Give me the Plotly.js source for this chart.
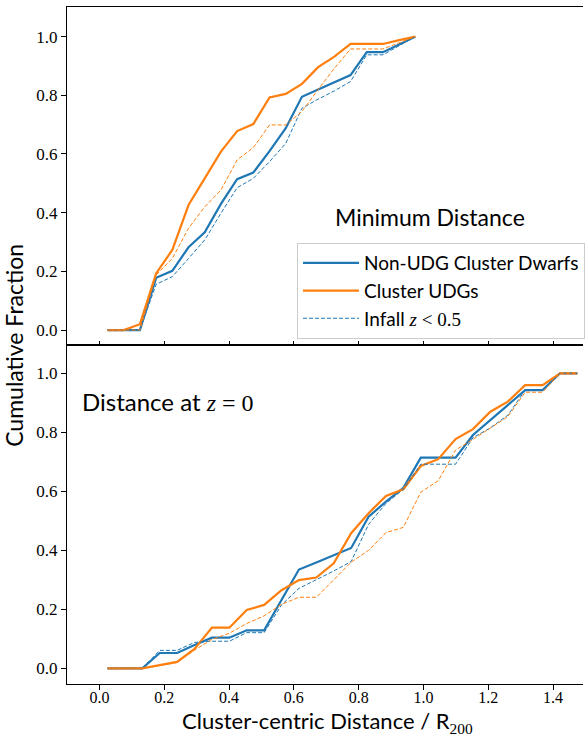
<!DOCTYPE html>
<html><head><meta charset="utf-8">
<script src="https://cdn.plot.ly/plotly-3.0.1.min.js"></script>
<style>html,body{margin:0;padding:0;background:#fff}</style>
</head><body><div id="chart" style="width:585px;height:735px"></div>
<script>
// Top panel: minimum distance
const xMin = [0.025,0.075,0.125,0.175,0.225,0.275,0.325,0.375,0.425,0.475,0.525,0.575,0.625,0.675,0.725,0.775,0.825,0.875,0.925,0.975];
const minDwarf = [0,0,0,0.178,0.202,0.282,0.333,0.430,0.514,0.537,0.610,0.688,0.795,0.820,0.844,0.869,0.947,0.947,0.973,1.0];
const minUDG = [0,0,0.020,0.193,0.273,0.426,0.517,0.608,0.678,0.702,0.793,0.805,0.839,0.896,0.932,0.975,0.975,0.975,0.988,1.0];
const minDwarfInfall = [0,0,0,0.156,0.182,0.244,0.307,0.398,0.485,0.517,0.574,0.636,0.756,0.787,0.815,0.847,0.938,0.938,0.969,1.0];
const minUDGInfall = [0,0,0,0.188,0.244,0.347,0.420,0.477,0.580,0.622,0.699,0.699,0.745,0.820,0.892,0.958,0.958,0.958,0.979,1.0];

// Bottom panel: distance at z = 0
const xZ0 = [0.025,0.0787,0.1324,0.1861,0.2398,0.2935,0.3472,0.4009,0.4546,0.5083,0.5620,0.6157,0.6694,0.7231,0.7769,0.8306,0.8843,0.9380,0.9917,1.0454,1.0991,1.1528,1.2065,1.2602,1.3139,1.3676,1.4213,1.4750];
const z0Dwarf = [0,0,0,0.052,0.052,0.079,0.104,0.104,0.129,0.129,0.232,0.335,0.359,0.383,0.408,0.514,0.565,0.612,0.714,0.714,0.714,0.791,0.842,0.893,0.943,0.943,1.0,1.0];
const z0UDG = [0,0,0,0.011,0.022,0.066,0.138,0.138,0.198,0.215,0.265,0.299,0.308,0.356,0.458,0.526,0.584,0.607,0.686,0.709,0.777,0.811,0.870,0.904,0.960,0.960,1.0,1.0];
const z0DwarfInfall = [0,0,0,0.061,0.061,0.088,0.092,0.092,0.121,0.121,0.215,0.271,0.300,0.330,0.362,0.488,0.559,0.607,0.692,0.692,0.692,0.782,0.815,0.858,0.943,0.943,1.0,1.0];
const z0UDGInfall = [0,0,0,0.010,0.020,0.062,0.098,0.119,0.152,0.178,0.217,0.241,0.241,0.300,0.360,0.400,0.460,0.478,0.597,0.636,0.740,0.776,0.815,0.853,0.936,0.936,1.0,1.0];

const xTicks = [0,0.2,0.4,0.6,0.8,1.0,1.2,1.4];
const xTickText = ['0.0','0.2','0.4','0.6','0.8','1.0','1.2','1.4'];
const yTicks = [0,0.2,0.4,0.6,0.8,1.0];
const yTickText = ['0.0','0.2','0.4','0.6','0.8','1.0'];

const BLUE = '#1f77b4', ORANGE = '#ff7f0e';
const SANS = 'Lato, "DejaVu Sans", sans-serif';
const SERIF = '"Liberation Serif", "DejaVu Serif", serif';
const mathSpan = s => `<span style="font-family:'Liberation Serif'">${s}</span>`;

const solid = c => ({color: c, width: 2.2});
const dashed = c => ({color: c, width: 1, dash: '4px,2px'});

const traces = [
  {x: xMin, y: minDwarf, xaxis: 'x', yaxis: 'y', mode: 'lines', line: solid(BLUE), name: 'Non-UDG Cluster Dwarfs', legendgroup: 'a'},
  {x: xMin, y: minUDG, xaxis: 'x', yaxis: 'y', mode: 'lines', line: solid(ORANGE), name: 'Cluster UDGs', legendgroup: 'b'},
  {x: xMin, y: minDwarfInfall, xaxis: 'x', yaxis: 'y', mode: 'lines', line: dashed(BLUE), name: 'Infall ' + mathSpan('<i>z</i> &lt; 0.5'), legendgroup: 'c'},
  {x: xMin, y: minUDGInfall, xaxis: 'x', yaxis: 'y', mode: 'lines', line: dashed(ORANGE), showlegend: false, legendgroup: 'd'},
  {x: xZ0, y: z0Dwarf, xaxis: 'x2', yaxis: 'y2', mode: 'lines', line: solid(BLUE), showlegend: false},
  {x: xZ0, y: z0UDG, xaxis: 'x2', yaxis: 'y2', mode: 'lines', line: solid(ORANGE), showlegend: false},
  {x: xZ0, y: z0DwarfInfall, xaxis: 'x2', yaxis: 'y2', mode: 'lines', line: dashed(BLUE), showlegend: false},
  {x: xZ0, y: z0UDGInfall, xaxis: 'x2', yaxis: 'y2', mode: 'lines', line: dashed(ORANGE), showlegend: false}
];

const tickFont = {family: SERIF, size: 17, color: '#000'};
const xRange = [-0.1, 1.4923];
const baseX = {range: xRange, showline: true, mirror: true, linecolor: '#000', linewidth: 1,
  tickvals: xTicks, ticktext: xTickText, tickcolor: '#000', tickwidth: 1,
  showgrid: false, zeroline: false, tickfont: tickFont};
const baseY = {showline: true, mirror: false, linecolor: '#000', linewidth: 1,
  tickvals: yTicks, ticktext: yTickText, ticks: 'outside', ticklen: 5, tickcolor: '#000', tickwidth: 1,
  showgrid: false, zeroline: false, tickfont: tickFont};

const split = 339 / 677;
const layout = {
  width: 585, height: 735,
  margin: {l: 67, r: 0, t: 7, b: 51},
  paper_bgcolor: '#fff', plot_bgcolor: '#fff',
  font: {family: SANS, color: '#000'},
  xaxis: Object.assign({}, baseX, {anchor: 'y', ticks: 'inside', ticklen: 4, showticklabels: false}),
  yaxis: Object.assign({}, baseY, {domain: [split, 1], anchor: 'x', range: [-0.051, 1.101]}),
  xaxis2: Object.assign({}, baseX, {anchor: 'y2', ticks: 'outside', ticklen: 4.5, showticklabels: true, ticklabelstandoff: -6,
    tickfont: {family: SERIF, size: 16, color: '#000'}}),
  yaxis2: Object.assign({}, baseY, {domain: [0, split], anchor: 'x2', range: [-0.053, 1.096]}),
  showlegend: true,
  legend: {
    x: 0.446, y: 0.6514, xanchor: 'left', yanchor: 'top',
    bgcolor: 'rgba(255,255,255,0.8)', bordercolor: '#cccccc', borderwidth: 1,
    font: {family: SANS, size: 19, color: '#000'},
    itemwidth: 56, tracegroupgap: 1, traceorder: 'normal'
  },
  annotations: [
    {text: 'Minimum Distance', xref: 'paper', yref: 'paper', x: 0.704, y: 0.690,
     xanchor: 'center', yanchor: 'middle', showarrow: false, font: {family: SANS, size: 23, color: '#000'}},
    {text: 'Distance at ' + mathSpan('<i>z</i> = 0'), xref: 'paper', yref: 'paper', x: 0.026, y: 0.417,
     xanchor: 'left', yanchor: 'middle', showarrow: false, font: {family: SANS, size: 24, color: '#000'}},
    {text: 'Cluster-centric Distance / R<sub>' + mathSpan('200') + '</sub>', xref: 'paper', yref: 'paper', x: 0.504, y: -0.0555,
     xanchor: 'center', yanchor: 'middle', showarrow: false, font: {family: SANS, size: 22, color: '#000'}},
    {text: 'Cumulative Fraction', xref: 'paper', yref: 'paper', x: -0.104, y: 0.5, textangle: -90,
     xanchor: 'center', yanchor: 'middle', showarrow: false, font: {family: SANS, size: 23, color: '#000'}}
  ]
};

Plotly.newPlot('chart', traces, layout, {displayModeBar: false, staticPlot: true});
</script></body></html>
